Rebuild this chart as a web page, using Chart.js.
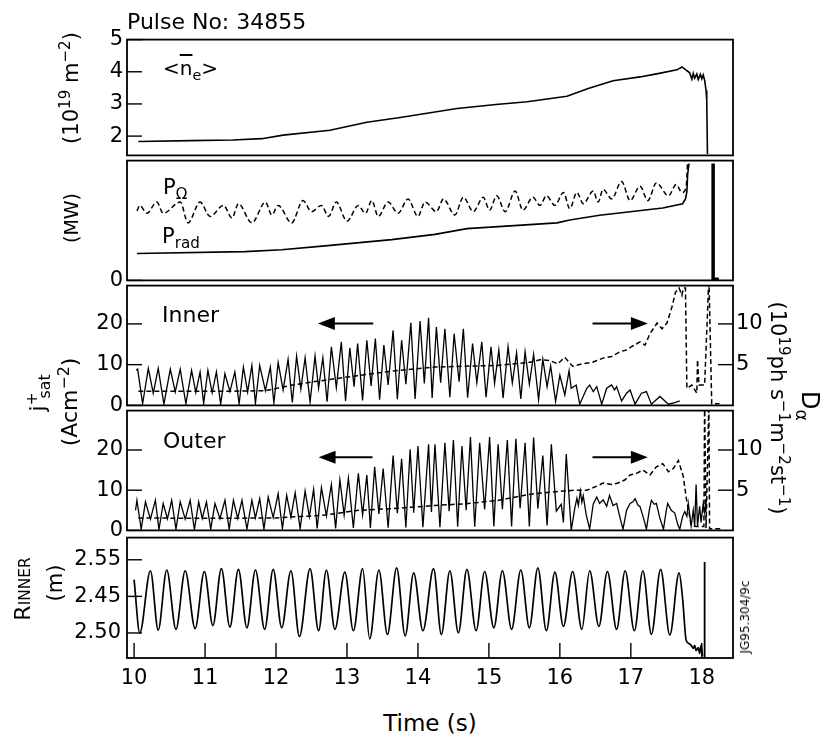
<!DOCTYPE html>
<html>
<head>
<meta charset="utf-8">
<script src="https://cdn.jsdelivr.net/npm/chart.js@4.4.0/dist/chart.umd.min.js"></script>
<style>
  body { margin: 0; background: #fff; }
  #wrap { position: relative; width: 827px; height: 740px; font-family: 'DejaVu Sans', sans-serif; color: #000; overflow: hidden; }
  #wrap canvas { position: absolute; left: 0; }
  .t { position: absolute; white-space: nowrap; line-height: 1; }
  .c { transform: translate(-50%, -50%); }
  .l { transform: translate(0, -50%); }
  .up { transform: translate(-50%, -50%) rotate(-90deg); }
  .dn { transform: translate(-50%, -50%) rotate(90deg); }
  sub, sup { font-size: 0.72em; line-height: 0; }
</style>
</head>
<body>
<div id="wrap">
  <canvas id="p1" width="827" height="149" style="top:23px"></canvas>
  <canvas id="p2" width="827" height="153" style="top:144px"></canvas>
  <canvas id="p3" width="827" height="153" style="top:269px"></canvas>
  <canvas id="p4" width="827" height="153" style="top:394px"></canvas>
  <canvas id="p5" width="827" height="184" style="top:519px"></canvas>

  <div class="t" style="left:127px;top:11px;font-size:22px">Pulse No: 34855</div>
  <div class="t up" style="left:71px;top:88px;font-size:21px">(10<sup>19</sup> m<sup>−2</sup>)</div>
  <div class="t up" style="left:71px;top:218px;font-size:19px">(MW)</div>
  <div class="t up" style="left:38px;top:393px;font-size:22px">j<sup>+</sup><sub style="margin-left:-0.4em">sat</sub></div>
  <div class="t up" style="left:70px;top:402px;font-size:22px">(Acm<sup>−2</sup>)</div>
  <div class="t up" style="left:23px;top:589px;font-size:22px">R<span style="font-size:0.7em">INNER</span></div>
  <div class="t up" style="left:55px;top:583px;font-size:21px">(m)</div>
  <div class="t dn" style="left:810px;top:406px;font-size:24px">D<sub>α</sub></div>
  <div class="t dn" style="left:777px;top:408px;font-size:21px">(10<sup>19</sup>ph s<sup>−1</sup>m<sup>−2</sup>st<sup>−1</sup>)</div>
  <div class="t up" style="left:745px;top:617px;font-size:12px">JG95.304/9c</div>
  <div class="t c" style="left:430px;top:723px;font-size:23px">Time (s)</div>
  <div class="t l" style="left:163px;top:68px;font-size:20px">&lt;<span style="text-decoration:overline">n</span><sub>e</sub>&gt;</div>
  <div class="t l" style="left:163px;top:187px;font-size:21px">P<sub>Ω</sub></div>
  <div class="t l" style="left:162px;top:236px;font-size:21px">P<sub>rad</sub></div>
  <div class="t l" style="left:162px;top:315px;font-size:22px">Inner</div>
  <div class="t l" style="left:163px;top:441px;font-size:22px">Outer</div>
</div>

<script>
const X_MIN = 9.9, X_MAX = 18.44;
const xTicks = [10, 11, 12, 13, 14, 15, 16, 17, 18];

// <ne> line density (10^19 m^-2)
const densT = [10.06, 10.80, 11.39, 11.80, 12.10, 12.76, 13.28, 13.75, 14.55, 15.10, 15.54, 16.10, 16.40, 16.75, 17.13, 17.40, 17.65, 17.72,
  17.78, 17.83, 17.86, 17.88, 17.90, 17.93, 17.95, 17.98, 18.00, 18.02, 18.04, 18.06, 18.07, 18.08];
const densV = [1.83, 1.86, 1.88, 1.92, 2.03, 2.18, 2.43, 2.58, 2.86, 2.98, 3.07, 3.24, 3.48, 3.72, 3.84, 3.95, 4.06, 4.15,
  4.05, 3.97, 3.77, 3.95, 3.80, 3.93, 3.76, 3.92, 3.78, 3.90, 3.74, 3.42, 3.12, 1.44];

// ohmic power (dashed) and radiated power (MW)
const pohmT = [10.04, 10.08, 10.18, 10.32, 10.41, 10.65, 10.76, 10.93, 11.07, 11.26, 11.38, 11.47, 11.66, 11.85, 11.94, 12.03, 12.22, 12.38, 12.50,
  12.64, 12.74, 12.85, 13.00, 13.16, 13.26, 13.35, 13.44, 13.58, 13.72, 13.86, 14.00, 14.10, 14.26, 14.36, 14.52, 14.64, 14.78, 14.92,
  15.01, 15.11, 15.23, 15.37, 15.48, 15.62, 15.72, 15.81, 15.93, 16.05, 16.14, 16.24, 16.33, 16.47, 16.54, 16.61, 16.73, 16.87, 16.99,
  17.13, 17.24, 17.36, 17.53, 17.64, 17.72, 17.78, 17.80];
const pohmV = [2.90, 3.13, 2.80, 3.27, 2.80, 3.27, 2.40, 3.27, 2.67, 3.13, 2.60, 3.20, 2.40, 3.27, 2.73, 3.13, 2.40, 3.33, 2.87,
  3.13, 2.67, 3.27, 2.47, 3.13, 2.80, 3.33, 2.67, 3.27, 2.80, 3.40, 2.67, 3.27, 2.87, 3.40, 2.73, 3.47, 2.87, 3.47,
  2.93, 3.53, 2.87, 3.73, 2.93, 3.47, 3.13, 3.53, 3.13, 3.67, 3.00, 3.67, 3.20, 3.73, 3.27, 3.80, 3.40, 4.13, 3.33,
  3.93, 3.33, 4.07, 3.53, 4.00, 3.67, 3.90, 4.95];
const pradT = [10.04, 11.56, 12.08, 12.69, 13.63, 14.24, 14.69, 15.96, 16.14, 16.56, 17.45, 17.73, 17.77, 17.79, 17.80, 17.82];
const pradV = [1.12, 1.20, 1.28, 1.44, 1.70, 1.92, 2.16, 2.40, 2.52, 2.72, 3.02, 3.20, 3.40, 3.70, 4.40, 4.88];
const discT = [18.16, 18.16, 18.24];
const discV = [4.88, 0.05, 0.05];

// inner target: ion saturation current (Acm^-2) and D-alpha (right scale)
const innerT = [10.03, 10.05, 10.12, 10.20, 10.27, 10.34, 10.42, 10.51, 10.58, 10.65, 10.73, 10.81, 10.87, 10.93, 10.98, 11.04, 11.10, 11.16,
  11.22, 11.28, 11.35, 11.42, 11.48, 11.54, 11.60, 11.66, 11.71, 11.77, 11.85, 11.92, 11.97, 12.03, 12.10, 12.17, 12.23, 12.29,
  12.35, 12.41, 12.48, 12.55, 12.60, 12.66, 12.72, 12.78, 12.85, 12.92, 12.98, 13.04, 13.10, 13.15, 13.22, 13.28, 13.34, 13.40,
  13.46, 13.52, 13.58, 13.65, 13.71, 13.77, 13.83, 13.90, 13.96, 14.03, 14.09, 14.15, 14.20, 14.26, 14.32, 14.38, 14.45, 14.51,
  14.58, 14.64, 14.70, 14.77, 14.83, 14.90, 14.96, 15.03, 15.08, 15.14, 15.20, 15.27, 15.33, 15.39, 15.45, 15.51, 15.57, 15.63,
  15.70, 15.76, 15.82, 15.87, 15.94, 16.00, 16.07, 16.13, 16.16, 16.23, 16.28, 16.38, 16.42, 16.47, 16.52, 16.59, 16.66, 16.73,
  16.77, 16.80, 16.87, 16.94, 16.99, 17.06, 17.15, 17.22, 17.29, 17.41, 17.53, 17.62, 17.69];
const innerJ = [8.6, 8.9, 0.4, 9.1, 3.0, 9.1, 0.3, 8.9, 3.3, 8.9, 0.4, 8.6, 3.2, 8.2, 0.5, 8.6, 3.1, 8.2,
  0.3, 7.8, 3.4, 8.2, 0.4, 9.4, 3.3, 9.8, 0.5, 9.8, 3.6, 9.4, 0.6, 10.5, 3.8, 11.3, 0.7, 12.1,
  4.0, 11.7, 0.8, 12.1, 4.2, 11.7, 0.9, 14.4, 4.4, 15.6, 1.1, 14.1, 4.6, 15.2, 1.2, 16.0, 4.8, 16.4,
  1.4, 14.8, 5.0, 18.4, 1.5, 16.0, 5.2, 20.3, 1.6, 20.7, 5.4, 21.5, 1.8, 19.2, 5.6, 18.8, 2.0, 17.6,
  5.8, 18.8, 1.9, 15.2, 5.6, 15.6, 2.0, 14.4, 5.4, 13.6, 1.8, 14.4, 5.5, 12.9, 1.6, 13.2, 5.2, 12.5,
  1.4, 11.3, 4.6, 9.7, 1.0, 7.4, 2.6, 8.5, 4.2, 5.0, 0.3, 4.2, 5.0, 3.4, 4.6, 0.3, 4.2, 5.0,
  3.8, 4.6, 1.1, 3.0, 3.8, 0.3, 3.0, 3.4, 0.3, 2.2, 0.3, 0.7, 1.1];
const innerDaT = [10.06, 11.28, 11.85, 12.23, 12.69, 13.15, 13.63, 14.24, 14.63, 15.11, 15.58, 15.72, 15.86, 15.97, 16.07, 16.18, 16.32,
  16.46, 16.61, 16.73, 16.85, 16.94, 17.01, 17.13, 17.20, 17.27, 17.37, 17.44, 17.51, 17.58, 17.63, 17.68, 17.72, 17.74, 17.77,
  17.79, 17.86, 17.93, 17.94, 17.96, 18.04, 18.08, 18.10, 18.14, 18.25];
const innerDa = [1.73, 1.73, 1.80, 2.50, 3.10, 3.65, 4.20, 4.70, 4.80, 4.90, 5.30, 5.60, 5.50, 5.10, 5.90, 4.80, 5.10,
  5.30, 5.80, 6.00, 6.60, 6.80, 7.20, 7.80, 7.40, 8.80, 10.1, 9.40, 10.1, 12.1, 13.9, 14.4, 13.5, 14.4, 14.4,
  2.10, 2.50, 1.50, 5.60, 2.50, 2.50, 11.2, 16.0, 0.20, 0.20];

// outer target
const outerT = [10.02, 10.04, 10.10, 10.16, 10.23, 10.30, 10.35, 10.41, 10.47, 10.53, 10.59, 10.65, 10.72, 10.79, 10.85, 10.91, 10.96,
  11.02, 11.08, 11.14, 11.21, 11.28, 11.34, 11.40, 11.46, 11.52, 11.59, 11.66, 11.71, 11.77, 11.83, 11.89, 11.96, 12.03, 12.09,
  12.15, 12.21, 12.27, 12.34, 12.41, 12.47, 12.53, 12.58, 12.64, 12.71, 12.78, 12.84, 12.90, 12.96, 13.02, 13.09, 13.16, 13.22,
  13.28, 13.33, 13.39, 13.45, 13.51, 13.58, 13.65, 13.71, 13.77, 13.83, 13.89, 13.94, 14.00, 14.07, 14.15, 14.19, 14.24, 14.31,
  14.38, 14.44, 14.50, 14.56, 14.62, 14.68, 14.74, 14.80, 14.87, 14.94, 15.01, 15.07, 15.13, 15.19, 15.26, 15.32, 15.38, 15.44,
  15.51, 15.57, 15.63, 15.69, 15.76, 15.82, 15.88, 15.95, 16.02, 16.05, 16.09, 16.16, 16.21, 16.24, 16.26, 16.29, 16.31, 16.33,
  16.37, 16.42, 16.47, 16.52, 16.56, 16.61, 16.66, 16.70, 16.75, 16.80, 16.85, 16.89, 16.94, 16.99, 17.03, 17.06, 17.10, 17.13,
  17.18, 17.22, 17.26, 17.29, 17.33, 17.36, 17.41, 17.46, 17.50, 17.52, 17.57, 17.62, 17.66, 17.69, 17.73, 17.76, 17.79, 17.81,
  17.85, 17.88, 17.90, 17.92, 17.94, 17.97, 17.99, 18.02, 18.04, 18.07];
const outerJ = [5.0, 7.5, 0.3, 7.1, 2.8, 7.5, 0.2, 6.7, 2.9, 7.5, 0.3, 7.1, 2.8, 7.5, 0.2, 7.1, 3.0,
  7.1, 0.3, 6.7, 2.9, 7.5, 0.3, 7.5, 3.0, 7.5, 0.3, 7.5, 3.1, 7.9, 0.3, 8.3, 3.2, 9.1, 0.4,
  8.7, 3.3, 9.4, 0.4, 9.8, 3.4, 10.2, 0.5, 10.6, 3.6, 11.4, 0.5, 12.6, 3.8, 13.0, 0.6, 14.2, 3.9,
  13.8, 0.6, 15.8, 4.1, 15.4, 0.7, 18.6, 4.3, 17.8, 0.7, 20.2, 4.4, 21.0, 0.8, 21.4, 4.6, 21.4, 0.8,
  21.8, 4.8, 22.5, 0.9, 21.0, 5.0, 23.2, 0.9, 21.8, 5.2, 23.2, 1.0, 21.4, 5.3, 22.5, 1.0, 22.8, 5.5,
  21.8, 1.0, 23.1, 5.4, 18.6, 1.2, 21.4, 4.8, 6.5, 2.0, 19.0, 0.0, 5.5, 8.0, 6.2, 9.8, 7.0, 8.6,
  4.0, 0.3, 6.5, 8.3, 6.7, 7.6, 6.0, 8.7, 6.2, 6.7, 3.0, 0.3, 5.0, 6.7, 7.1, 7.9, 6.3, 5.9,
  3.0, 0.3, 5.0, 7.5, 6.5, 6.7, 3.0, 0.3, 5.0, 6.7, 5.0, 4.3, 1.5, 0.3, 3.5, 4.7, 3.5, 6.7,
  1.1, 5.0, 1.1, 11.4, 1.1, 6.0, 2.0, 6.7, 4.5, 8.3];
const outerDaT = [10.06, 11.00, 11.99, 12.69, 13.16, 13.63, 14.24, 14.64, 15.11, 15.58, 16.05, 16.23, 16.38, 16.52, 16.61, 16.73, 16.82,
  16.92, 16.99, 17.08, 17.17, 17.27, 17.36, 17.45, 17.53, 17.60, 17.67, 17.74, 17.78, 17.83, 17.85, 17.92, 18.03, 18.04, 18.06,
  18.10, 18.11, 18.30];
const outerDa = [1.55, 1.50, 1.55, 1.90, 2.50, 2.70, 3.10, 3.30, 3.70, 4.50, 4.90, 5.00, 5.00, 5.50, 5.90, 5.70, 5.90,
  6.30, 6.90, 7.10, 7.50, 6.90, 7.90, 8.30, 7.30, 7.70, 8.70, 6.70, 4.10, 1.70, 0.60, 0.50, 0.50, 16.0, 0.30,
  16.0, 0.20, 0.20];

// inner separatrix radius (m)
const rT = [10.00, 10.08, 10.23, 10.34, 10.46, 10.59, 10.72, 10.86, 10.99, 11.11, 11.23, 11.35, 11.47, 11.59, 11.71, 11.84, 11.96,
  12.08, 12.21, 12.33, 12.48, 12.60, 12.71, 12.83, 12.97, 13.09, 13.22, 13.32, 13.45, 13.57, 13.70, 13.82, 13.94, 14.07, 14.22,
  14.33, 14.45, 14.57, 14.69, 14.82, 14.94, 15.07, 15.19, 15.32, 15.45, 15.57, 15.69, 15.81, 15.93, 16.05, 16.18, 16.31, 16.42,
  16.55, 16.67, 16.80, 16.92, 17.05, 17.17, 17.29, 17.42, 17.55, 17.68, 17.73, 17.78, 17.83, 17.85, 17.88, 17.90, 17.92, 17.95,
  17.97, 17.99, 18.01];
const rV = [2.523, 2.450, 2.535, 2.454, 2.536, 2.455, 2.535, 2.456, 2.534, 2.460, 2.538, 2.458, 2.537, 2.457, 2.536, 2.455, 2.537,
  2.457, 2.535, 2.445, 2.538, 2.453, 2.536, 2.455, 2.533, 2.453, 2.538, 2.442, 2.536, 2.448, 2.539, 2.446, 2.532, 2.453, 2.538,
  2.448, 2.535, 2.450, 2.537, 2.453, 2.534, 2.457, 2.535, 2.455, 2.536, 2.457, 2.539, 2.453, 2.533, 2.459, 2.534, 2.455, 2.535,
  2.459, 2.534, 2.455, 2.535, 2.453, 2.535, 2.448, 2.537, 2.447, 2.532, 2.497, 2.440, 2.435, 2.433, 2.429, 2.433, 2.426, 2.430,
  2.422, 2.433, 2.418];
const rMarkT = [18.04, 18.04];
const rMarkV = [2.547, 2.416];

const densTicks = [2, 3, 4, 5];
const mwTicks = [0];
const jTicks = [0, 10, 20];
const daTicks = [5, 10];
const rTickVals = [2.55, 2.50, 2.45];
const rTickText = ['2.55', '2.45', '2.50'];

// arrows: [from time, to time, level]
const innerArrows = [[13.37, 12.59, 20.1], [16.46, 17.24, 20.1]];
const outerArrows = [[13.36, 12.60, 18.2], [16.46, 17.24, 18.2]];
const arrowsFor = { p3: innerArrows, p4: outerArrows };

const FONT = "'DejaVu Sans', sans-serif";

const pts = (ts, vs) => ts.map((t, i) => ({ x: t, y: vs[i] }));

function trace(ts, vs, extra) {
  return Object.assign({
    data: pts(ts, vs), borderColor: '#000', borderWidth: 1.5,
    pointRadius: 0, tension: 0, fill: false, yAxisID: 'y'
  }, extra);
}

function yAxis(pos, min, max, ticks, extra) {
  return Object.assign({
    type: 'linear', position: pos, min: min, max: max,
    grid: { display: false, drawTicks: false },
    border: { display: false },
    afterBuildTicks: s => { s.ticks = ticks.map(v => ({ value: v })); },
    afterFit: s => { s.width = pos === 'left' ? 127 : 94; },
    ticks: { color: '#000', font: { family: FONT, size: 21 }, padding: pos === 'left' ? 4 : 3 }
  }, extra);
}

function xAxis(show) {
  return {
    type: 'linear', min: X_MIN, max: X_MAX, display: show,
    grid: { display: false, drawTicks: false },
    border: { display: false },
    afterBuildTicks: s => { s.ticks = xTicks.map(v => ({ value: v })); },
    afterFit: s => { s.height = show ? 45 : 0; },
    ticks: { color: '#000', font: { family: FONT, size: 21 }, padding: 8, maxRotation: 0 }
  };
}

// box around each panel, inward tick marks, arrows
const frame = {
  id: 'frame',
  afterDatasetsDraw(chart) {
    const ctx = chart.ctx, a = chart.chartArea;
    ctx.save();
    ctx.strokeStyle = '#000';
    ctx.fillStyle = '#000';
    ctx.lineWidth = 1.8;
    ctx.strokeRect(a.left, a.top, a.right - a.left, a.bottom - a.top);
    ctx.lineWidth = 1.4;
    Object.values(chart.scales).forEach(s => {
      if (!s.options.display) return;
      s.ticks.forEach(t => {
        const p = s.getPixelForValue(t.value);
        ctx.beginPath();
        if (s.position === 'left') { ctx.moveTo(a.left, p); ctx.lineTo(a.left + 15, p); }
        else if (s.position === 'right') { ctx.moveTo(a.right - 15, p); ctx.lineTo(a.right, p); }
        else { ctx.moveTo(p, a.bottom); ctx.lineTo(p, a.bottom - 15); }
        ctx.stroke();
      });
    });
    (arrowsFor[chart.canvas.id] || []).forEach(([t0, t1, v]) => {
      const x0 = chart.scales.x.getPixelForValue(t0);
      const x1 = chart.scales.x.getPixelForValue(t1);
      const y = chart.scales.y.getPixelForValue(v);
      const dir = Math.sign(x1 - x0);
      ctx.lineWidth = 2.2;
      ctx.beginPath(); ctx.moveTo(x0, y); ctx.lineTo(x1 - dir * 14, y); ctx.stroke();
      ctx.beginPath(); ctx.moveTo(x1, y); ctx.lineTo(x1 - dir * 17, y - 6.5); ctx.lineTo(x1 - dir * 17, y + 6.5);
      ctx.closePath(); ctx.fill();
    });
    ctx.restore();
  }
};

function panel(id, datasets, scales, padRight, padBottom) {
  new Chart(document.getElementById(id), {
    type: 'line',
    data: { datasets: datasets },
    options: {
      responsive: false,
      animation: false,
      events: [],
      layout: { padding: { top: 14, bottom: padBottom, left: 0, right: padRight } },
      plugins: { legend: { display: false }, tooltip: { enabled: false } },
      scales: scales
    },
    plugins: [frame]
  });
}

panel('p1', [trace(densT, densV, { borderWidth: 1.6 })],
  { x: xAxis(false), y: yAxis('left', 1.4, 5, densTicks) }, 94, 14);

panel('p2', [
    trace(pohmT, pohmV, { borderDash: [5, 3], cubicInterpolationMode: 'monotone' }),
    trace(pradT, pradV, { borderWidth: 1.6 }),
    trace(discT, discV, { borderWidth: 3.5 })
  ],
  { x: xAxis(false), y: yAxis('left', 0, 5, mwTicks) }, 94, 14);

panel('p3', [
    trace(innerT, innerJ, { borderWidth: 1.3 }),
    trace(innerDaT, innerDa, { borderDash: [5, 3], yAxisID: 'yr' })
  ],
  { x: xAxis(false), y: yAxis('left', 0, 29.4, jTicks), yr: yAxis('right', 0, 14.7, daTicks) }, 0, 14);

panel('p4', [
    trace(outerT, outerJ, { borderWidth: 1.3 }),
    trace(outerDaT, outerDa, { borderDash: [5, 3], yAxisID: 'yr' })
  ],
  { x: xAxis(false), y: yAxis('left', 0, 29.8, jTicks), yr: yAxis('right', 0, 14.9, daTicks) }, 0, 14);

panel('p5', [
    trace(rT, rV, { cubicInterpolationMode: 'monotone', borderWidth: 1.7 }),
    trace(rMarkT, rMarkV, { borderWidth: 1.8 })
  ],
  { x: xAxis(true),
    y: yAxis('left', 2.4158, 2.5803, rTickVals, {
      ticks: { color: '#000', font: { family: FONT, size: 21 }, padding: 6,
               callback: v => rTickText[rTickVals.indexOf(v)] }
    }) }, 94, 0);
</script>
</body>
</html>
